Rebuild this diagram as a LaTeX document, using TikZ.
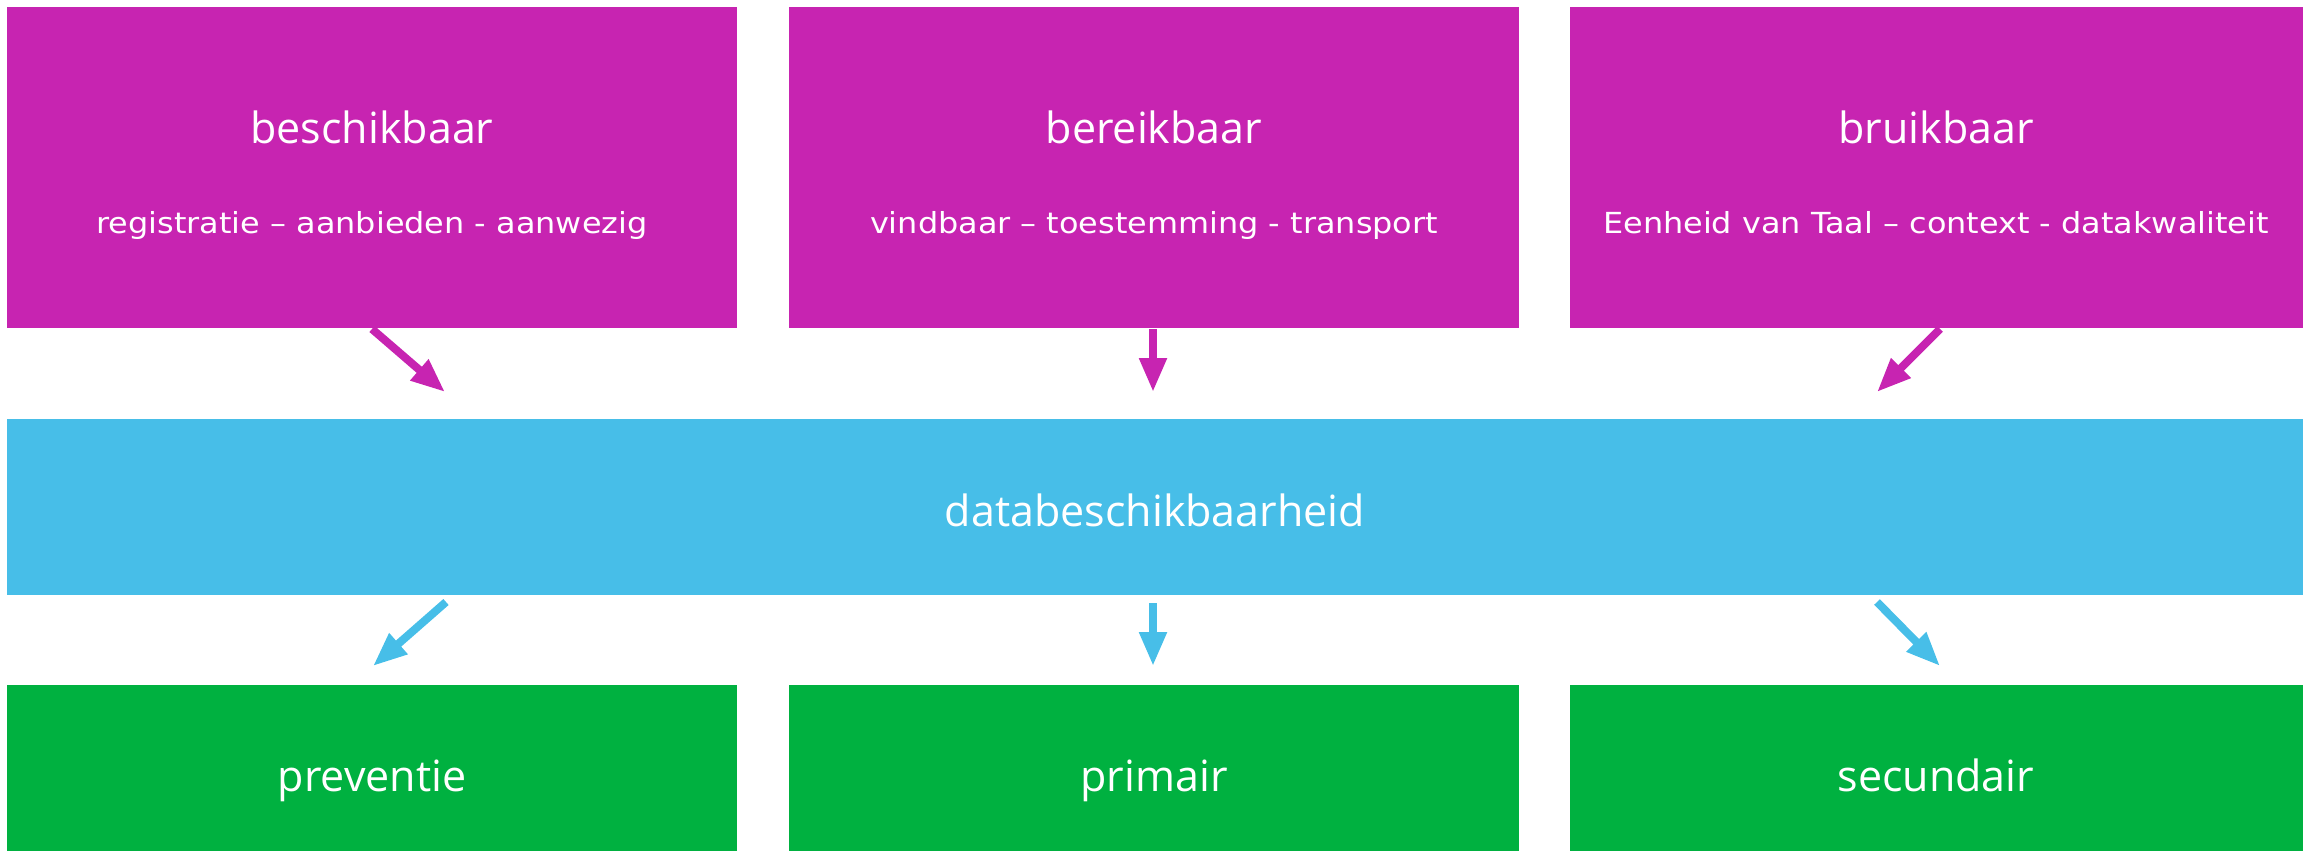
\documentclass[tikz,border=0pt]{standalone}
\usepackage{fontspec}
\setmainfont{Open Sans}
\newfontfamily\subfont{DejaVu Sans}[FakeStretch=1.1]
\usetikzlibrary{arrows.meta}
\definecolor{mag}{HTML}{C724B1}
\definecolor{sky}{HTML}{47BEE8}
\definecolor{grn}{HTML}{00B140}
\tikzset{
  x=1pt,y=-1pt,
  boxbase/.style={draw=none,inner sep=0pt,outer sep=0pt,anchor=north west,text=white},
  topbox/.style={boxbase,fill=mag,minimum width=730pt,minimum height=321pt},
  midbox/.style={boxbase,fill=sky,minimum width=2296pt,minimum height=176pt},
  botbox/.style={boxbase,fill=grn,minimum width=730pt,minimum height=166pt},
  bigtxt/.style={text=white,font=\fontsize{43}{50}\selectfont,anchor=base},
  smalltxt/.style={text=white,font=\subfont\fontsize{29}{34}\selectfont,anchor=base},
  magarrow/.style={draw=mag,line width=8pt,-{Triangle[length=34pt,width=26pt]}},
  skyarrow/.style={draw=sky,line width=8pt,-{Triangle[length=34pt,width=26pt]}},
}
\begin{document}
\begin{tikzpicture}
\useasboundingbox (0,0) rectangle (2310,854);
% top boxes
\node[topbox] (b1) at (7,7) {};
\node[topbox] (b2) at (789,7) {};
\node[topbox,minimum width=733pt] (b3) at (1570,7) {};
\node[bigtxt] (t1) at (372,143) {beschikbaar};
\node[smalltxt] (s1) at (372,233) {registratie – aanbieden - aanwezig};
\node[bigtxt] (t2) at (1154,143) {bereikbaar};
\node[smalltxt] (s2) at (1154,233) {vindbaar – toestemming - transport};
\node[bigtxt] (t3) at (1936,143) {bruikbaar};
\node[smalltxt] (s3) at (1936,233) {Eenheid van Taal – context - datakwaliteit};
% middle box
\node[midbox] (m) at (7,419) {};
\node[bigtxt] (mt) at (1155,526) {databeschikbaarheid};
% bottom boxes
\node[botbox] (g1) at (7,685) {};
\node[botbox] (g2) at (789,685) {};
\node[botbox,minimum width=733pt] (g3) at (1570,685) {};
\node[bigtxt] (gt1) at (372,791) {preventie};
\node[bigtxt] (gt2) at (1154,791) {primair};
\node[bigtxt] (gt3) at (1936,791) {secundair};
% arrow end points
\coordinate (a1s) at (372,329);
\coordinate (a1e) at (445,392);
\coordinate (a2s) at (1153,329);
\coordinate (a2e) at (1153,392);
\coordinate (a3s) at (1940,329);
\coordinate (a3e) at (1877,392);
\coordinate (c1s) at (446,602);
\coordinate (c1e) at (373,666);
\coordinate (c2s) at (1153,603);
\coordinate (c2e) at (1153,666);
\coordinate (c3s) at (1877,602);
\coordinate (c3e) at (1940,666);
\draw[magarrow] (a1s) -- (a1e);
\draw[magarrow] (a2s) -- (a2e);
\draw[magarrow] (a3s) -- (a3e);
\draw[skyarrow] (c1s) -- (c1e);
\draw[skyarrow] (c2s) -- (c2e);
\draw[skyarrow] (c3s) -- (c3e);
\end{tikzpicture}
\end{document}
